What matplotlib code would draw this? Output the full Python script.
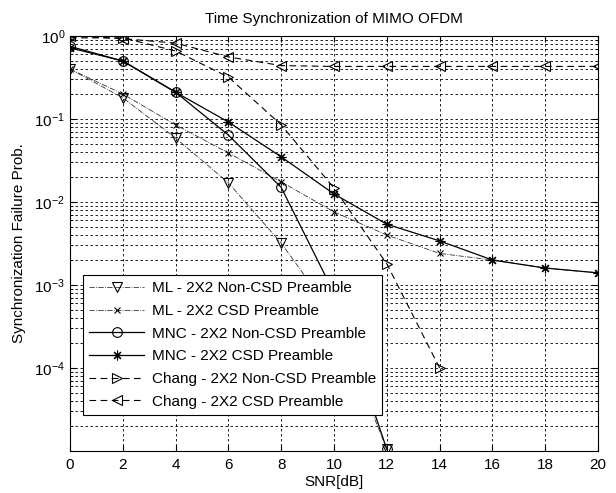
import numpy as np
import matplotlib
matplotlib.use("Agg")
import matplotlib.pyplot as plt
from matplotlib.ticker import LogLocator, FixedLocator, NullFormatter

plt.rcParams['font.family'] = ['Liberation Sans', 'DejaVu Sans']
plt.rcParams['mathtext.default'] = 'regular'

nan = np.nan
snr = [0, 2, 4, 6, 8, 10, 12, 14, 16, 18, 20]
ml_noncsd = [0.40, 0.18, 0.059, 0.017, 0.0032, 4.2e-4, 1.05e-5, nan, nan, nan, nan]
ml_csd = [0.40, 0.20, 0.085, 0.039, 0.0175, 0.0076, 0.0040, 0.0024, 0.0020, 0.0016, 0.0014]
mnc_noncsd = [0.75, 0.50, 0.21, 0.064, 0.015, 8.0e-4, 1.05e-5, nan, nan, nan, nan]
mnc_csd = [0.72, 0.50, 0.21, 0.092, 0.035, 0.0125, 0.0054, 0.0034, 0.0020, 0.0016, 0.0014]
chang_noncsd = [0.95, 0.95, 0.66, 0.32, 0.085, 0.0147, 0.0018, 1.0e-4, nan, nan, nan]
chang_csd = [1.0, 0.93, 0.82, 0.56, 0.44, 0.43, 0.43, 0.43, 0.43, 0.43, 0.43]

labels = ['ML - 2X2 Non-CSD Preamble', 'ML - 2X2 CSD Preamble',
          'MNC - 2X2 Non-CSD Preamble', 'MNC - 2X2 CSD Preamble',
          'Chang - 2X2 Non-CSD Preamble', 'Chang - 2X2 CSD Preamble']

fig = plt.figure(figsize=(6.16, 4.93), dpi=100)
ax = fig.add_axes([70/616, 42/493, 528/616, 415/493])

mk = dict(markerfacecolor='none', markeredgecolor='black', markeredgewidth=0.8)
ax.semilogy(snr, ml_noncsd, linestyle='-.', color='#333333', lw=0.6, marker='v', markersize=7, label=labels[0], **mk)
ax.semilogy(snr, ml_csd, linestyle='-.', color='#333333', lw=0.6, marker='x', markersize=5, label=labels[1], **mk)
ax.semilogy(snr, mnc_noncsd, linestyle='-', color='black', lw=0.9, marker='o', markersize=7, label=labels[2], **mk)
ax.semilogy(snr, mnc_csd, linestyle='-', color='black', lw=0.9, marker=(8, 2, 0), markersize=7, label=labels[3], **mk)
ax.semilogy(snr, chang_noncsd, linestyle=(0, (6, 4)), color='black', lw=0.8, marker='>', markersize=7, label=labels[4], **mk)
ax.semilogy(snr, chang_csd, linestyle=(0, (6, 4)), color='black', lw=0.8, marker='<', markersize=7, label=labels[5], **mk)

ax.set_xlim(0, 20)
ax.set_ylim(1e-5, 1)
ax.xaxis.set_major_locator(FixedLocator(snr))
ax.yaxis.set_minor_locator(LogLocator(base=10, subs=np.arange(2, 10), numticks=20))
ax.yaxis.set_minor_formatter(NullFormatter())
ax.set_yticks([1e-4, 1e-3, 1e-2, 1e-1, 1e0])

ax.grid(True, which='major', axis='both', linestyle=(0, (3, 3)), color='black', lw=0.6)
ax.grid(True, which='minor', axis='y', linestyle=(0, (3, 3)), color='black', lw=0.6)
ax.tick_params(which='both', direction='in', top=True, right=True, labelsize=11)
ax.tick_params(which='major', length=4)
ax.tick_params(which='minor', length=2)
ax.tick_params(axis='x', pad=5)
for s in ax.spines.values():
    s.set_linewidth(0.8)

ax.set_title('Time Synchronization of MIMO OFDM', fontsize=11, pad=9)
ax.set_xlabel('SNR[dB]', fontsize=11, labelpad=2)
ax.set_ylabel('Synchronization Failure Prob.', fontsize=11, labelpad=6)

leg = ax.legend(loc='upper left', bbox_to_anchor=(0.025, 0.424), fontsize=11,
                frameon=True, fancybox=False, edgecolor='black', framealpha=1,
                borderpad=0.4, labelspacing=0.57, handlelength=3.6, handletextpad=0.5,
                borderaxespad=0)
leg.get_frame().set_linewidth(0.8)

fig.savefig('out.png', dpi=100)
